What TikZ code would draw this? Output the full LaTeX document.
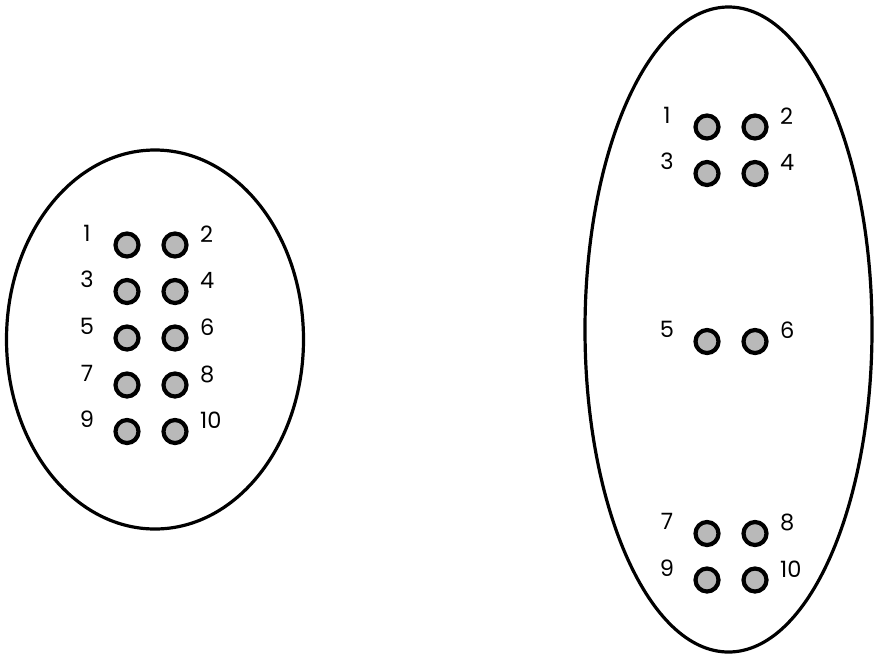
\documentclass[tikz,border=0pt]{standalone}
\usepackage{fontspec}
\setsansfont{Poppins}
\usepackage{tikz}

\tikzset{
  rim/.style={line width=3.2pt},
  hole/.style={circle, draw, line width=4.2pt, fill=gray!55, minimum size=23pt, inner sep=0pt},
  num/.style={font=\sffamily\fontsize{22.5}{26}\selectfont, inner sep=0pt}
}

\begin{document}
\begin{tikzpicture}[x=1pt, y=-1pt]
\useasboundingbox (0,0) rectangle (874,654);

% left connector
\draw[rim] (155,339.5) ellipse [x radius=148.5pt, y radius=189.5pt];

\node[hole] (l1) at (127,245) {};
\node[hole] (l2) at (175,245) {};
\node[hole] (l3) at (127,291.5) {};
\node[hole] (l4) at (175,291.5) {};
\node[hole] (l5) at (127,338) {};
\node[hole] (l6) at (175,338) {};
\node[hole] (l7) at (127,385) {};
\node[hole] (l8) at (175,385) {};
\node[hole] (l9) at (127,431.5) {};
\node[hole] (l10) at (175,431.5) {};

\node[num] (tl1) at ([shift={(-40,-12)}]l1) {1};
\node[num, anchor=west] (tl2) at ([shift={(25,-11)}]l2) {2};
\node[num] (tl3) at ([shift={(-40,-12)}]l3) {3};
\node[num, anchor=west] (tl4) at ([shift={(25,-11)}]l4) {4};
\node[num] (tl5) at ([shift={(-40,-12)}]l5) {5};
\node[num, anchor=west] (tl6) at ([shift={(25,-11)}]l6) {6};
\node[num] (tl7) at ([shift={(-40,-12)}]l7) {7};
\node[num, anchor=west] (tl8) at ([shift={(25,-11)}]l8) {8};
\node[num] (tl9) at ([shift={(-40,-12)}]l9) {9};
\node[num, anchor=west] (tl10) at ([shift={(25,-11)}]l10) {10};

% right connector
\draw[rim] (728.5,329.5) ellipse [x radius=143.5pt, y radius=322.5pt];

\node[hole] (r1) at (707,127) {};
\node[hole] (r2) at (755,127) {};
\node[hole] (r3) at (707,173.5) {};
\node[hole] (r4) at (755,173.5) {};
\node[hole] (r5) at (707,341.5) {};
\node[hole] (r6) at (755,341.5) {};
\node[hole] (r7) at (707,533.5) {};
\node[hole] (r8) at (755,533.5) {};
\node[hole] (r9) at (707,580) {};
\node[hole] (r10) at (755,580) {};

\node[num] (tr1) at ([shift={(-40,-12)}]r1) {1};
\node[num, anchor=west] (tr2) at ([shift={(25,-11)}]r2) {2};
\node[num] (tr3) at ([shift={(-40,-12)}]r3) {3};
\node[num, anchor=west] (tr4) at ([shift={(25,-11)}]r4) {4};
\node[num] (tr5) at ([shift={(-40,-12)}]r5) {5};
\node[num, anchor=west] (tr6) at ([shift={(25,-11)}]r6) {6};
\node[num] (tr7) at ([shift={(-40,-12)}]r7) {7};
\node[num, anchor=west] (tr8) at ([shift={(25,-11)}]r8) {8};
\node[num] (tr9) at ([shift={(-40,-12)}]r9) {9};
\node[num, anchor=west] (tr10) at ([shift={(25,-11)}]r10) {10};
\end{tikzpicture}
\end{document}
